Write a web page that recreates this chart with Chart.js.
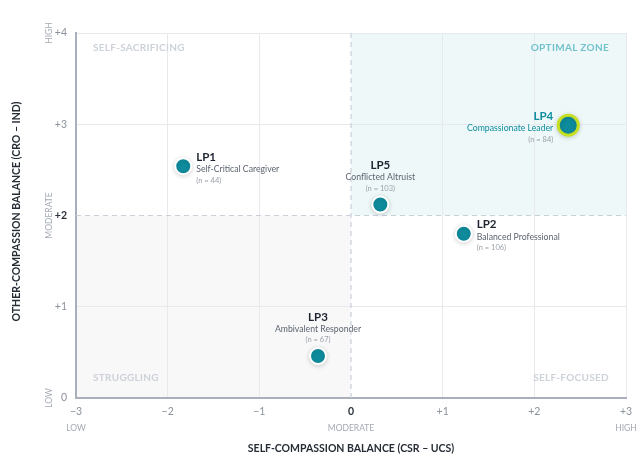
<!DOCTYPE html>
<html><head><meta charset="utf-8">
<script src="https://cdn.jsdelivr.net/npm/chart.js@4.4.1/dist/chart.umd.min.js"></script>
<style>html,body{margin:0;padding:0;background:#fff}#wrap{width:643px;height:467px;position:relative}</style>
</head><body><div id="wrap"><canvas id="c" width="643" height="467"></canvas></div>
<script>
const profiles = ['LP1','LP2','LP3','LP4','LP5'];
const profileNames = ['Self-Critical Caregiver','Balanced Professional','Ambivalent Responder','Compassionate Leader','Conflicted Altruist'];
const sampleSizes = [44,106,67,84,103];
const xValues = [-1.83, 1.23, -0.36, 2.37, 0.32];
const yValues = [2.54, 1.80, 0.46, 2.99, 2.12];
const labelPlacement = ['right','right','above','left','above'];
const xTickValues = [-3,-2,-1,0,1,2,3];
const yTickValues = [0,1,2,3,4];
const xLevelLabels = ['LOW','MODERATE','HIGH'];
const yLevelLabels = ['LOW','MODERATE','HIGH'];
const quadrantLabels = ['SELF-SACRIFICING','OPTIMAL ZONE','STRUGGLING','SELF-FOCUSED'];
const xTitle = 'SELF-COMPASSION BALANCE (CSR – UCS)';
const yTitle = 'OTHER-COMPASSION BALANCE (CRO – IND)';

const FONT = 'Lato, "Open Sans", sans-serif';
const TEAL = '#0e8c9d';
const fmt = v => v === 0 ? '0' : (v > 0 ? '+' + v : '\u2212' + Math.abs(v));

const pts = xValues.map((x,i)=>({x, y:yValues[i]}));

const backgroundPlugin = {
  id:'bg',
  beforeDraw(chart){
    const {ctx, scales:{x,y}} = chart;
    const x0 = x.getPixelForValue(0), x3 = x.getPixelForValue(3), xm = x.getPixelForValue(-3);
    const y2 = y.getPixelForValue(2), y4 = y.getPixelForValue(4), y0 = y.getPixelForValue(0);
    ctx.save();
    ctx.fillStyle = '#eef8f9';
    ctx.fillRect(x0, y4, x3-x0, y2-y4);
    ctx.fillStyle = '#f8f8f9';
    ctx.fillRect(xm, y2, x0-xm, y0-y2);
    ctx.restore();
  }
};

const overlayPlugin = {
  id:'overlay',
  beforeDatasetsDraw(chart){
    const {ctx, scales:{x,y}} = chart;
    const x0 = x.getPixelForValue(0), x3 = x.getPixelForValue(3), xm = x.getPixelForValue(-3);
    const y2 = y.getPixelForValue(2), y4 = y.getPixelForValue(4), y0 = y.getPixelForValue(0);
    ctx.save();
    ctx.strokeStyle = '#c9d0da';
    ctx.lineWidth = 1.2;
    ctx.setLineDash([5,4]);
    ctx.beginPath();
    ctx.moveTo(x0, y4); ctx.lineTo(x0, y0);
    ctx.moveTo(xm, y2); ctx.lineTo(x3, y2);
    ctx.stroke();
    ctx.setLineDash([]);
    // quadrant labels
    ctx.font = 'bold 10px ' + FONT;
    ctx.textBaseline = 'middle';
    if (ctx.letterSpacing !== undefined) ctx.letterSpacing = '0.3px';
    ctx.fillStyle = '#cdd1d8';
    ctx.textAlign = 'left';
    ctx.fillText(quadrantLabels[0], xm + 17, y4 + 15);
    ctx.fillText(quadrantLabels[2], xm + 17, y0 - 20);
    ctx.textAlign = 'right';
    ctx.fillText(quadrantLabels[3], x3 - 17, y0 - 20);
    ctx.fillStyle = '#72c2cd';
    ctx.fillText(quadrantLabels[1], x3 - 17, y4 + 15);
    if (ctx.letterSpacing !== undefined) ctx.letterSpacing = '0px';
    // level labels
    ctx.font = '8.5px ' + FONT;
    ctx.fillStyle = '#a4a9b2';
    ctx.textAlign = 'center';
    ctx.fillText(xLevelLabels[0], x.getPixelForValue(-3), 428);
    ctx.fillText(xLevelLabels[1], x.getPixelForValue(0), 428);
    ctx.fillText(xLevelLabels[2], x.getPixelForValue(3), 428);
    [[0,0],[1,2],[2,4]].forEach(([i,v])=>{
      ctx.save();
      ctx.translate(49, y.getPixelForValue(v));
      ctx.rotate(-Math.PI/2);
      ctx.fillText(yLevelLabels[i], 0, 0);
      ctx.restore();
    });
    // axis titles
    ctx.font = 'bold 10.5px ' + FONT;
    ctx.fillStyle = '#262c36';
    ctx.fillText(xTitle, x.getPixelForValue(0), 449);
    ctx.save();
    ctx.translate(17, (y4+y0)/2 - 4);
    ctx.rotate(-Math.PI/2);
    ctx.fillText(yTitle, 0, 0);
    ctx.restore();
    ctx.restore();
  },
  afterDatasetsDraw(chart){
    const {ctx} = chart;
    const meta = chart.getDatasetMeta(0);
    ctx.save();
    ctx.textBaseline = 'middle';
    meta.data.forEach((el,i)=>{
      const px = el.x, py = el.y;
      const place = labelPlacement[i];
      const hi = i === 3;
      let tx, ys, align;
      if (place === 'right'){ tx = px + 13; align='left'; ys=[py-9, py+3, py+14]; }
      else if (place === 'left'){ tx = px - 15; align='right'; ys=[py-9, py+3, py+14]; }
      else { tx = px; align='center'; ys=[py-39, py-27, py-16]; }
      ctx.textAlign = align;
      ctx.font = 'bold 11.5px ' + FONT;
      ctx.fillStyle = hi ? TEAL : '#1d2430';
      ctx.fillText(profiles[i], tx, ys[0]);
      ctx.font = '8.7px ' + FONT;
      ctx.fillStyle = hi ? TEAL : '#5d6470';
      ctx.fillText(profileNames[i], tx, ys[1]);
      ctx.font = '7.5px ' + FONT;
      ctx.fillStyle = '#9ba1ab';
      ctx.fillText('(n = ' + sampleSizes[i] + ')', tx, ys[2]);
    });
    ctx.restore();
  }
};

const shadowPlugin = {
  id:'shadow',
  beforeDatasetDraw(chart){
    const ctx = chart.ctx;
    ctx.save();
    ctx.shadowColor = 'rgba(0,0,0,0.16)';
    ctx.shadowBlur = 5;
    ctx.shadowOffsetY = 1;
  },
  afterDatasetDraw(chart){ chart.ctx.restore(); }
};

new Chart(document.getElementById('c'), {
  type:'scatter',
  data:{ datasets:[{
    data: pts,
    backgroundColor: TEAL,
    borderColor: ctx => ctx.dataIndex === 3 ? '#c6df22' : '#ffffff',
    borderWidth: ctx => ctx.dataIndex === 3 ? 3 : 2,
    pointRadius: ctx => ctx.dataIndex === 3 ? 10 : 8,
    pointHoverRadius: ctx => ctx.dataIndex === 3 ? 10 : 8,
  }]},
  options:{
    responsive:false,
    animation:false,
    events:[],
    layout:{ padding:{ top:33, right:17, left:0, bottom:0 } },
    plugins:{ legend:{display:false}, tooltip:{enabled:false} },
    scales:{
      x:{
        type:'linear', min:-3, max:3,
        afterBuildTicks: s => { s.ticks = xTickValues.map(v=>({value:v})); },
        afterFit: s => { s.height = 69; },
        border:{ color:'#a9b0bc', width:2 },
        grid:{ color: c => c.tick && c.tick.value === 0 ? 'rgba(0,0,0,0)' : '#e7e9ed', drawTicks:false, lineWidth:1 },
        ticks:{
          padding:7,
          callback: v => fmt(v),
          font: c => ({ family: FONT, size:10.5, weight: c.tick && c.tick.value === 0 ? 'bold' : 'normal' }),
          color: c => c.tick && c.tick.value === 0 ? '#2a303a' : '#8c929c',
          maxRotation:0
        }
      },
      y:{
        type:'linear', min:0, max:4,
        afterBuildTicks: s => { s.ticks = yTickValues.map(v=>({value:v})); },
        afterFit: s => { s.width = 76; },
        border:{ color:'#a9b0bc', width:2 },
        grid:{ color: c => c.tick && c.tick.value === 2 ? 'rgba(0,0,0,0)' : '#e7e9ed', drawTicks:false, lineWidth:1 },
        ticks:{
          padding:9,
          callback: v => fmt(v),
          font: c => ({ family: FONT, size:10.5, weight: c.tick && c.tick.value === 2 ? 'bold' : 'normal' }),
          color: c => c.tick && c.tick.value === 2 ? '#2a303a' : '#8c929c'
        }
      }
    }
  },
  plugins:[backgroundPlugin, overlayPlugin, shadowPlugin]
});
</script></body></html>
